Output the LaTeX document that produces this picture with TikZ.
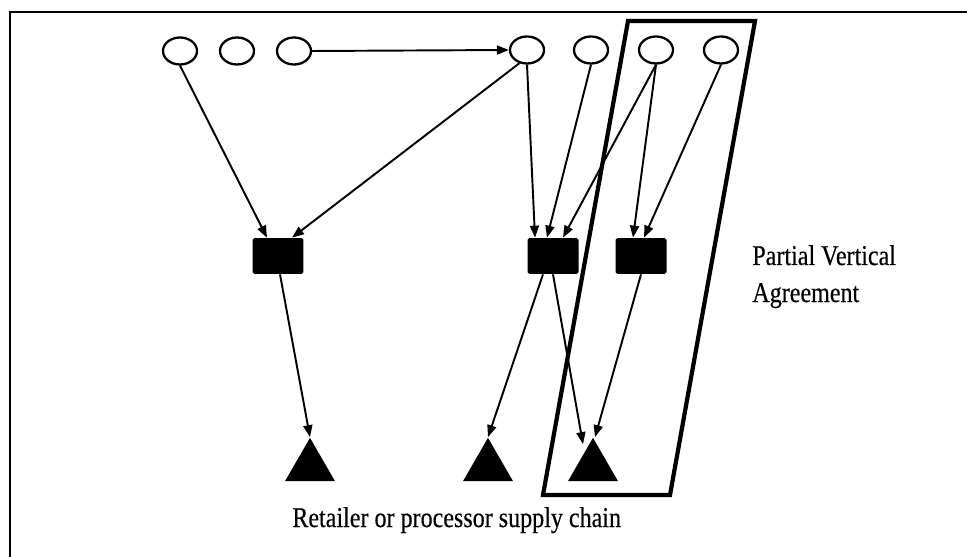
\documentclass[tikz,border=0pt]{standalone}
\usepackage{fontspec}
\newfontfamily\narrowserif[FakeStretch=0.84,FakeBold=0.4]{Liberation Serif}
\usetikzlibrary{shapes.geometric,arrows.meta}
\begin{document}
\begin{tikzpicture}[x=0.02cm,y=-0.02cm,
  firm/.style={ellipse,draw,line width=1.3pt,minimum width=0.68cm,minimum height=0.54cm,inner sep=0pt},
  plant/.style={rectangle,fill=black,rounded corners=1pt,minimum width=1.02cm,minimum height=0.72cm,inner sep=0pt},
  outlet/.style={regular polygon,regular polygon sides=3,fill=black,minimum size=1.154cm,inner sep=0pt},
  flow/.style={line width=1.1pt,-{Triangle[length=0.24cm,width=0.18cm]}},
  label/.style={font=\narrowserif\fontsize{16.3}{19}\selectfont,inner sep=0pt}
]
\useasboundingbox (0,0) rectangle (967,557);
\fill[white] (0,0) rectangle (967,557);

% outer frame (top and left edges)
\draw[line width=1.2pt] (10,557) -- (10,12) -- (967,12);

% suppliers
\node[firm] (e1) at (180,51) {};
\node[firm] (e2) at (237,51) {};
\node[firm] (e3) at (294,51) {};
\node[firm] (e4) at (527,50) {};
\node[firm] (e5) at (591,50) {};
\node[firm] (e6) at (656,50) {};
\node[firm] (e7) at (721,50) {};

% processors
\node[plant] (r1) at (278,256) {};
\node[plant] (r2) at (553,256) {};
\node[plant] (r3) at (641,256) {};

% retailers
\node[outlet] (t1) at (310,466.7) {};
\node[outlet] (t2) at (488,466.7) {};
\node[outlet] (t3) at (593,466.7) {};

% partial vertical agreement boundary
\coordinate (p1) at (628,21);
\coordinate (p2) at (755,21);
\coordinate (p3) at (670,495);
\coordinate (p4) at (543,495);
\draw[line width=2.4pt,line join=miter] (p1) -- (p2) -- (p3) -- (p4) -- cycle;

% connections
\draw[flow] (e3.east) -- (e4.west);
\draw[flow] (e1.south) -- ([xshift=-0.22cm]r1.north);
\draw[flow] (e4.-120) -- ([xshift=0.28cm]r1.north);
\draw[flow] (e4.south) -- ([xshift=-0.36cm]r2.north);
\draw[flow] (e5.south) -- ([xshift=-0.12cm]r2.north);
\draw[flow] (e6.south) -- ([xshift=0.2cm]r2.north);
\draw[flow] (e6.south) -- ([xshift=-0.16cm]r3.north);
\draw[flow] (e7.south) -- ([xshift=0.06cm]r3.north);
\draw[flow] ([xshift=0.04cm]r1.south) -- (t1.corner 1);
\draw[flow] ([xshift=-0.2cm]r2.south) -- (t2.corner 1);
\draw[flow] (r2.south) -- ([xshift=-0.2cm,yshift=-0.14cm]t3.corner 1);
\draw[flow] (r3.south) -- ([xshift=0.04cm]t3.corner 1);

% labels
\node[label,anchor=base west] (pva1) at (752,265) {Partial Vertical};
\node[label,anchor=base west] (pva2) at (752,302) {Agreement};
\node[label,anchor=base west] (chain) at (292,527) {Retailer or processor supply chain};
\end{tikzpicture}
\end{document}
